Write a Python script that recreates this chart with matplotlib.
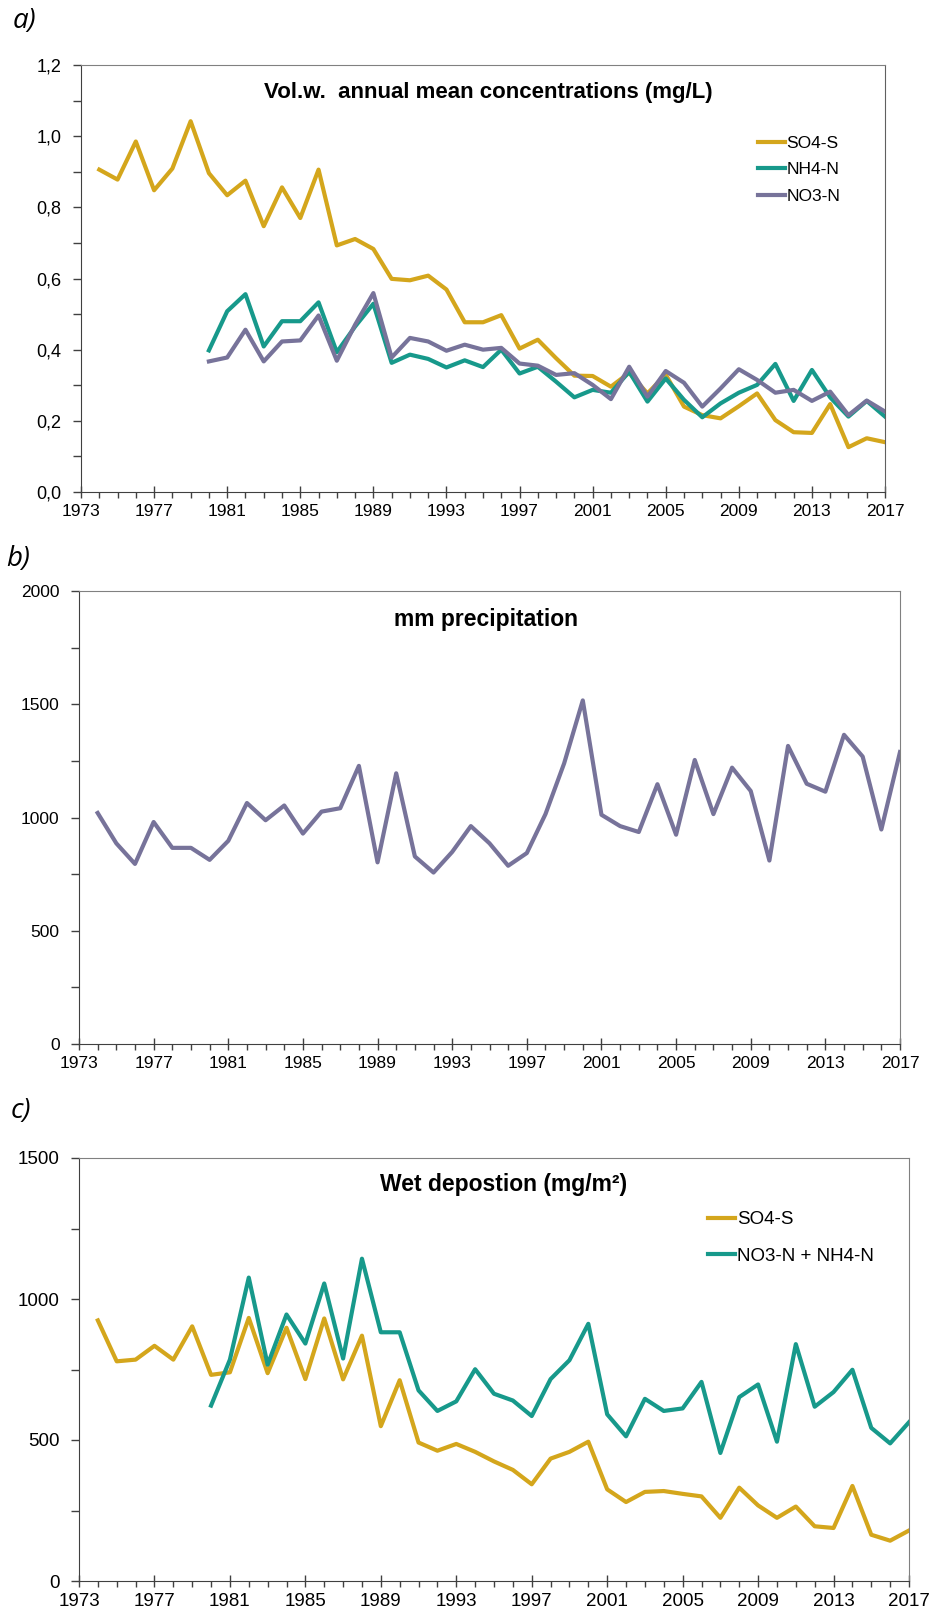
import matplotlib
matplotlib.use("Agg")
import matplotlib.pyplot as plt
from matplotlib.ticker import MultipleLocator

years = list(range(1974, 2018))
years_n = list(range(1980, 2018))

so4_conc = [0.906, 0.878, 0.985, 0.848, 0.909, 1.042, 0.896, 0.834, 0.875, 0.747,
            0.856, 0.770, 0.906, 0.693, 0.711, 0.683, 0.599, 0.595, 0.608, 0.569,
            0.477, 0.477, 0.497, 0.403, 0.428, 0.376, 0.327, 0.326, 0.296, 0.335,
            0.277, 0.330, 0.240, 0.216, 0.207, 0.241, 0.277, 0.202, 0.168, 0.166,
            0.247, 0.126, 0.151, 0.140]
nh4_conc = [0.398, 0.508, 0.556, 0.409, 0.480, 0.480, 0.533, 0.393, 0.465, 0.529,
            0.363, 0.386, 0.374, 0.350, 0.370, 0.351, 0.400, 0.333, 0.352, 0.310,
            0.266, 0.287, 0.279, 0.338, 0.254, 0.319, 0.259, 0.210, 0.249, 0.279,
            0.301, 0.360, 0.256, 0.343, 0.266, 0.212, 0.256, 0.212]
no3_conc = [0.367, 0.378, 0.456, 0.367, 0.423, 0.426, 0.496, 0.369, 0.470, 0.559,
            0.378, 0.433, 0.423, 0.397, 0.414, 0.400, 0.405, 0.361, 0.355, 0.329,
            0.334, 0.301, 0.261, 0.352, 0.268, 0.340, 0.307, 0.240, 0.291, 0.345,
            0.315, 0.279, 0.287, 0.256, 0.282, 0.216, 0.257, 0.226]

precip = [1020, 886, 795, 980, 866, 866, 813, 897, 1064, 988,
          1053, 929, 1026, 1041, 1228, 802, 1195, 828, 757, 848,
          962, 886, 787, 843, 1015, 1239, 1517, 1012, 962, 936,
          1147, 924, 1254, 1015, 1220, 1117, 810, 1316, 1149, 1114,
          1365, 1269, 947, 1289]

so4_dep = [924, 779, 785, 834, 785, 903, 731, 740, 933, 737,
           898, 716, 931, 715, 870, 549, 712, 491, 462, 486,
           458, 424, 394, 343, 434, 458, 494, 325, 280, 316,
           319, 309, 300, 224, 331, 268, 224, 264, 194, 188,
           337, 164, 143, 179]
n_dep = [622, 785, 1076, 767, 945, 842, 1055, 789, 1143, 882,
         882, 676, 603, 637, 751, 664, 640, 585, 716, 783,
         912, 591, 513, 646, 603, 612, 706, 454, 652, 697,
         494, 840, 618, 670, 749, 543, 488, 563]

x_ticks = list(range(1973, 2018, 4))
conc_ticks = [0.0, 0.2, 0.4, 0.6, 0.8, 1.0, 1.2]
conc_labels = ["0,0", "0,2", "0,4", "0,6", "0,8", "1,0", "1,2"]

GOLD = "#D4A61C"
TEAL = "#17998B"
PURPLE = "#77739A"

W, H = 936, 1616
plt.rcParams["font.family"] = ["Liberation Sans", "DejaVu Sans"]
LETTER_FONT = ["Open Sans", "DejaVu Sans"]
NARROW_FONT = ["Liberation Sans Narrow", "Liberation Sans", "DejaVu Sans"]


def box(l, t, r, b):
    return [l / W, 1 - b / H, (r - l) / W, (b - t) / H]


def style_axes(ax, ymax, step, xsize, ysize):
    ax.set_xlim(1973, 2017)
    ax.set_ylim(0, ymax)
    ax.set_xticks(x_ticks)
    ax.xaxis.set_minor_locator(MultipleLocator(1))
    ax.yaxis.set_minor_locator(MultipleLocator(step / 2))
    ax.tick_params(axis="x", which="major", direction="inout", length=8,
                   width=1, pad=5, labelsize=xsize, color="#404040")
    ax.tick_params(axis="x", which="minor", direction="out", length=4,
                   width=1, color="#404040")
    ax.tick_params(axis="y", which="major", direction="out", length=6,
                   width=1, pad=8, labelsize=ysize, color="#404040")
    ax.tick_params(axis="y", which="minor", direction="out", length=6,
                   width=1, color="#404040")
    for side in ["left", "bottom"]:
        ax.spines[side].set_color("#404040")
    for side in ["top", "right"]:
        ax.spines[side].set_color("#808080")


def main():
    fig = plt.figure(figsize=(W / 100, H / 100), dpi=100)

    # a) concentrations
    ax1 = fig.add_axes(box(81, 65, 885, 492))
    ax1.plot(years, so4_conc, color=GOLD, lw=3, label="SO4-S")
    ax1.plot(years_n, nh4_conc, color=TEAL, lw=3, label="NH4-N")
    ax1.plot(years_n, no3_conc, color=PURPLE, lw=3, label="NO3-N")
    style_axes(ax1, 1.2, 0.2, 12.5, 13)
    ax1.set_yticks(conc_ticks)
    ax1.set_yticklabels(conc_labels)
    ax1.spines["right"].set_color("#606060")
    ax1.text(0.507, 0.935, "Vol.w.  annual mean concentrations (mg/L)",
             transform=ax1.transAxes, ha="center", va="center",
             fontsize=16, fontweight="bold")
    ax1.legend(loc="upper left", bbox_to_anchor=(0.842, 0.835), frameon=False,
               fontsize=12.5, handlelength=1.55, handletextpad=0.1,
               labelspacing=0.66, borderpad=0, borderaxespad=0)
    fig.text(24 / W, 1 - 21 / H, "a)", fontsize=20, style="italic",
             family=LETTER_FONT, ha="center", va="center")

    # b) precipitation
    ax2 = fig.add_axes(box(79, 591, 900, 1044))
    ax2.plot(years, precip, color=PURPLE, lw=3)
    style_axes(ax2, 2000, 500, 12.5, 12.5)
    ax2.set_yticks([0, 500, 1000, 1500, 2000])
    for lab in ax2.get_yticklabels():
        lab.set_family(NARROW_FONT)
    ax2.text(0.496, 0.936, "mm precipitation", transform=ax2.transAxes,
             ha="center", va="center", fontsize=16.5, fontweight="bold")
    fig.text(18 / W, 1 - 559 / H, "b)", fontsize=20, style="italic",
             family=LETTER_FONT, ha="center", va="center")

    # c) wet deposition
    ax3 = fig.add_axes(box(79, 1158, 909, 1581))
    ax3.plot(years, so4_dep, color=GOLD, lw=3, label="SO4-S")
    ax3.plot(years_n, n_dep, color=TEAL, lw=3, label="NO3-N + NH4-N")
    style_axes(ax3, 1500, 500, 13.5, 13.5)
    ax3.set_yticks([0, 500, 1000, 1500])
    ax3.text(0.512, 0.937, "Wet depostion (mg/m²)", transform=ax3.transAxes,
             ha="center", va="center", fontsize=16.5, fontweight="bold")
    ax3.legend(loc="upper left", bbox_to_anchor=(0.758, 0.874), frameon=False,
               fontsize=13.5, handlelength=1.45, handletextpad=0.1,
               labelspacing=1.02, borderpad=0, borderaxespad=0)
    fig.text(21 / W, 1 - 1111 / H, "c)", fontsize=20, style="italic",
             family=LETTER_FONT, ha="center", va="center")

    fig.savefig("out.png", dpi=100)


if __name__ == "__main__":
    main()
